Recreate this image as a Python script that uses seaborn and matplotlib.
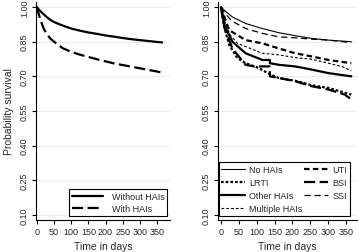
import matplotlib
matplotlib.use("Agg")
import matplotlib.pyplot as plt
import seaborn as sns
import pandas as pd

sns.set_style("white")
plt.rcParams['font.family'] = ['Liberation Sans', 'DejaVu Sans']

# ---- data ----
t_left = [0, 5, 10, 20, 30, 40, 50, 75, 100, 125, 150, 175, 200, 225, 250, 275, 300, 325, 350, 365]
without_hai = [1.0, 0.99, 0.982, 0.968, 0.955, 0.944, 0.935, 0.920, 0.907, 0.898, 0.890, 0.884,
               0.877, 0.872, 0.866, 0.861, 0.857, 0.853, 0.849, 0.847]
with_hai = [1.0, 0.97, 0.945, 0.905, 0.880, 0.862, 0.850, 0.822, 0.806, 0.794, 0.784, 0.774,
            0.765, 0.756, 0.749, 0.742, 0.735, 0.728, 0.721, 0.716]

t_no = [0, 10, 32, 69, 116, 162, 208, 255, 301, 365]
v_no = [1.0, 0.985, 0.957, 0.929, 0.907, 0.889, 0.876, 0.864, 0.857, 0.850]
t_ssi = [0, 10, 30, 69, 116, 162, 208, 255, 301, 365]
v_ssi = [1.0, 0.975, 0.94, 0.907, 0.886, 0.871, 0.867, 0.861, 0.857, 0.846]
t_uti = [0, 10, 23, 69, 116, 162, 208, 255, 301, 365]
v_uti = [1.0, 0.955, 0.900, 0.857, 0.843, 0.821, 0.800, 0.786, 0.771, 0.757]
t_mult = [0, 10, 25, 46, 116, 162, 208, 255, 301, 340, 365]
v_mult = [1.0, 0.94, 0.88, 0.843, 0.800, 0.793, 0.781, 0.774, 0.757, 0.742, 0.724]
t_other = [0, 10, 32, 69, 116, 137, 137, 162, 208, 255, 301, 365]
v_other = [1.0, 0.92, 0.850, 0.800, 0.771, 0.771, 0.757, 0.750, 0.743, 0.729, 0.714, 0.700]
t_bsi = [0, 10, 32, 69, 93, 137, 137, 162, 208, 255, 301, 347, 365]
v_bsi = [1.0, 0.91, 0.820, 0.750, 0.743, 0.743, 0.700, 0.693, 0.679, 0.657, 0.643, 0.621, 0.600]
t_lrti = [0, 8, 23, 46, 69, 106, 139, 162, 208, 255, 301, 347, 365]
v_lrti = [1.0, 0.92, 0.836, 0.779, 0.757, 0.736, 0.707, 0.693, 0.681, 0.661, 0.650, 0.629, 0.621]

yticks = [0.10, 0.25, 0.40, 0.55, 0.70, 0.85, 1.00]
xticks = [0, 50, 100, 150, 200, 250, 300, 350]

W, H = 358, 253
fig = plt.figure(figsize=(W / 100, H / 100), dpi=100)
axL = fig.add_axes([36 / W, (H - 221) / H, 134 / W, 218 / H])
axR = fig.add_axes([218 / W, (H - 221) / H, 139 / W, 218 / H])

def draw(ax, t, v, label, lw, ls):
    df = pd.DataFrame({"t": t, "v": v})
    sns.lineplot(data=df, x="t", y="v", ax=ax, estimator=None, sort=False,
                 color="black", lw=lw, linestyle=ls, label=label)

draw(axL, t_left, without_hai, "Without HAIs", 1.6, "-")
draw(axL, t_left, with_hai, "With HAIs", 1.6, (0, (5, 2)))

draw(axR, t_no, v_no, "No HAIs", 0.8, "-")
draw(axR, t_lrti, v_lrti, "LRTI", 1.6, (0, (1.2, 0.9)))
draw(axR, t_other, v_other, "Other HAIs", 1.6, "-")
draw(axR, t_mult, v_mult, "Multiple HAIs", 0.8, (0, (2.5, 1.8)))
draw(axR, t_uti, v_uti, "UTI", 1.6, (0, (2.5, 1.5)))
draw(axR, t_bsi, v_bsi, "BSI", 1.6, (0, (5, 2)))
draw(axR, t_ssi, v_ssi, "SSI", 0.9, (0, (5, 3)))

for ax, xl in ((axL, (-2.9, 388)), (axR, (-8.4, 381))):
    ax.set_xlim(*xl)
    ax.set_ylim(0.078, 1.022)
    ax.set_yticks(yticks)
    ax.set_yticklabels([f"{y:.2f}" for y in yticks], rotation=90, va="center")
    ax.set_xticks(xticks)
    ax.tick_params(axis="both", labelsize=6.5, length=3, width=0.8, pad=2, direction="out",
                   color="black", left=True, bottom=True)
    for y in yticks:
        ax.axhline(y, color="#e4eeee", lw=0.7, zorder=0)
    for s in ("top", "right"):
        ax.spines[s].set_visible(False)
    for s in ("left", "bottom"):
        ax.spines[s].set_color("black")
        ax.spines[s].set_linewidth(0.8)
    ax.set_xlabel("Time in days", fontsize=7.5, labelpad=3.5)
    ax.set_ylabel("")

axL.set_ylabel("Probability survival", fontsize=7.5, labelpad=4)

legL = axL.legend(loc="lower right", bbox_to_anchor=(0.978, 0.018), fontsize=6.5,
                  frameon=True, fancybox=False, framealpha=1, edgecolor="black",
                  handlelength=3.4, borderpad=0.3, labelspacing=0.35, handletextpad=1.0,
                  borderaxespad=0)
legL.get_frame().set_linewidth(0.8)

legR = axR.legend(loc="lower left", bbox_to_anchor=(0.005, 0.018), ncol=2, fontsize=6.5,
                  frameon=True, fancybox=False, framealpha=1, edgecolor="black",
                  handlelength=2.6, borderpad=0.3, labelspacing=0.45, handletextpad=0.5,
                  columnspacing=0.2, borderaxespad=0)
legR.get_frame().set_linewidth(0.8)

fig.savefig("out.png", dpi=100)
